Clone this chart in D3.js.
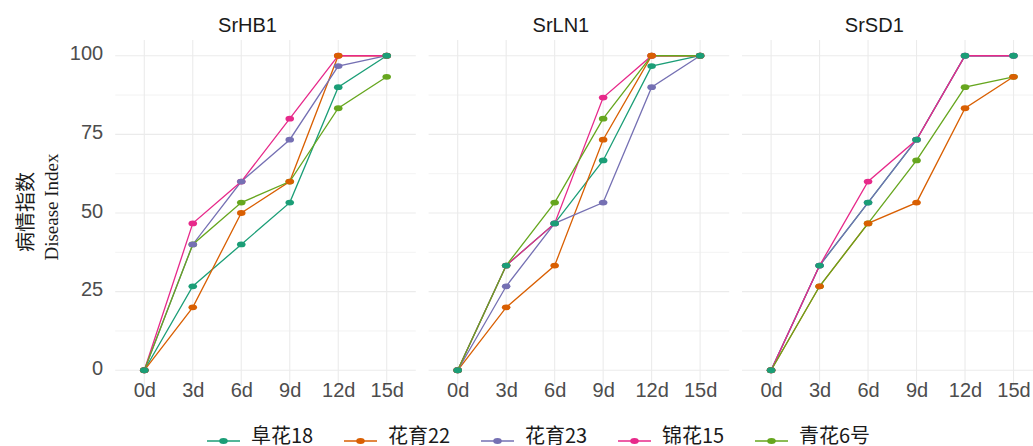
<!DOCTYPE html>
<html>
<head>
<meta charset="utf-8">
<script src="https://cdn.jsdelivr.net/npm/d3@7"></script>
<style>
  body { margin: 0; background: #fff; }
  svg { display: block; }
</style>
</head>
<body>
<svg id="chart"></svg>
<script>
// data
const days = ["0d", "3d", "6d", "9d", "12d", "15d"];
const panels = ["SrHB1", "SrLN1", "SrSD1"];
const cultivars = ["阜花18", "花育22", "花育23", "锦花15", "青花6号"];
const colors = ["#1B9E77", "#D95F02", "#7570B3", "#E7298A", "#66A61E"];
const yTicks = [0, 25, 50, 75, 100];

// values per panel, one row per cultivar
const srHB1 = [
    [0, 26.7, 40, 53.3, 90, 100],
    [0, 20, 50, 60, 100, 100],
    [0, 40, 60, 73.3, 96.7, 100],
    [0, 46.7, 60, 80, 100, 100],
    [0, 40, 53.3, 60, 83.3, 93.3]
];
const srLN1 = [
    [0, 33.3, 46.7, 66.7, 96.7, 100],
    [0, 20, 33.3, 73.3, 100, 100],
    [0, 26.7, 46.7, 53.3, 90, 100],
    [0, 33.3, 46.7, 86.7, 100, 100],
    [0, 33.3, 53.3, 80, 100, 100]
];
const srSD1 = [
    [0, 33.3, 53.3, 73.3, 100, 100],
    [0, 26.7, 46.7, 53.3, 83.3, 93.3],
    [0, 33.3, 53.3, 73.3, 100, 100],
    [0, 33.3, 60, 73.3, 100, 100],
    [0, 26.7, 46.7, 66.7, 90, 93.3]
];
const panelValues = [srHB1, srLN1, srSD1];

function getConfig() {
    let width = 1033;
    let height = 446;
    let panelTop = 40, panelBottom = 386;
    let panelLeft = 115.2, panelWidth = 300.6, panelGap = 12.8;
    let svg = d3.select("#chart").attr("width", width).attr("height", height);
    return { width, height, panelTop, panelBottom, panelLeft, panelWidth, panelGap, svg };
}

function drawPanel(config, p) {
    let { svg, panelTop, panelBottom, panelLeft, panelWidth, panelGap } = config;
    let x0 = panelLeft + p * (panelWidth + panelGap);

    let xScale = d3.scalePoint().domain(days).range([x0, x0 + panelWidth]).padding(0.6);
    let yScale = d3.scaleLinear().domain([-5, 105]).range([panelBottom, panelTop]);

    let g = svg.append("g");

    // minor grid
    let minor = d3.range(12.5, 100, 25);
    g.selectAll(".minor").data(minor).enter().append("line")
        .attr("x1", x0).attr("x2", x0 + panelWidth)
        .attr("y1", d => yScale(d)).attr("y2", d => yScale(d))
        .attr("stroke", "#EBEBEB").attr("stroke-width", 0.6);

    // major grid
    g.selectAll(".major").data(yTicks).enter().append("line")
        .attr("x1", x0).attr("x2", x0 + panelWidth)
        .attr("y1", d => yScale(d)).attr("y2", d => yScale(d))
        .attr("stroke", "#EBEBEB").attr("stroke-width", 1.1);
    g.selectAll(".vgrid").data(days).enter().append("line")
        .attr("x1", d => xScale(d)).attr("x2", d => xScale(d))
        .attr("y1", panelTop).attr("y2", panelBottom)
        .attr("stroke", "#EBEBEB").attr("stroke-width", 1.1);

    // x axis labels
    let axisX = d3.axisBottom(xScale).tickSize(0).tickPadding(0);
    let ax = g.append("g").attr("transform", `translate(0,${panelBottom - 4})`).call(axisX);
    ax.select(".domain").remove();
    ax.selectAll("text")
        .attr("dy", null).attr("y", 15)
        .attr("fill", "#4D4D4D")
        .style("font-family", "Liberation Sans, Arial, sans-serif")
        .style("font-size", "20px");

    // y axis labels only on first panel
    if (p === 0) {
        let axisY = d3.axisLeft(yScale).tickValues(yTicks).tickSize(0).tickPadding(12);
        let ay = g.append("g").attr("transform", `translate(${x0},0)`).call(axisY);
        ay.select(".domain").remove();
        ay.selectAll("text")
            .attr("fill", "#4D4D4D")
            .attr("dy", "0.2em")
            .style("font-family", "Liberation Sans, Arial, sans-serif")
            .style("font-size", "20px");
    }

    // strip title
    g.append("text")
        .attr("x", x0 + panelWidth / 2 - 18)
        .attr("y", 32)
        .attr("text-anchor", "middle")
        .attr("fill", "#1A1A1A")
        .style("font-family", "Liberation Sans, Arial, sans-serif")
        .style("font-size", "20px")
        .text(panels[p]);

    let line = d3.line().x((d, i) => xScale(days[i])).y(d => yScale(d));
    let rows = panelValues[p];

    // lines in cultivar order
    g.selectAll(".series").data(rows).enter().append("path")
        .attr("d", d => line(d))
        .attr("fill", "none")
        .attr("stroke", (d, i) => colors[i])
        .attr("stroke-width", 1.3);

    // points drawn in reverse so the first cultivar sits on top
    let order = d3.range(rows.length).reverse();
    order.forEach(k => {
        g.selectAll(null).data(rows[k]).enter().append("ellipse")
            .attr("cx", (d, i) => xScale(days[i]))
            .attr("cy", d => yScale(d))
            .attr("rx", 4.3).attr("ry", 2.9)
            .attr("fill", colors[k]);
    });
}

function drawYLabel(config) {
    let { svg } = config;
    let cy = 210;
    svg.append("text")
        .attr("transform", `translate(33,${cy + 2}) rotate(-90)`)
        .attr("text-anchor", "middle")
        .attr("fill", "#1A1A1A")
        .style("font-family", "Noto Sans CJK SC, sans-serif")
        .style("font-size", "20px")
        .text("病情指数");
    svg.append("text")
        .attr("transform", `translate(58,${cy - 3}) rotate(-90)`)
        .attr("text-anchor", "middle")
        .attr("fill", "#1A1A1A")
        .style("font-family", "Liberation Serif, Times New Roman, serif")
        .style("font-size", "19px")
        .text("Disease Index");
}

function drawLegend(config) {
    let { svg } = config;
    let legendX = d3.scaleLinear().domain([0, cultivars.length]).range([207, 207 + 5 * 137]);
    let items = svg.selectAll(".legend").data(cultivars).enter().append("g")
        .attr("transform", (d, i) => `translate(${legendX(i)},441)`);
    items.append("line")
        .attr("x1", 0).attr("x2", 33).attr("y1", 0).attr("y2", 0)
        .attr("stroke", (d, i) => colors[i]).attr("stroke-width", 1.3);
    items.append("ellipse")
        .attr("cx", 16.5).attr("cy", 0).attr("rx", 4.3).attr("ry", 2.9)
        .attr("fill", (d, i) => colors[i]);
    items.append("text")
        .attr("x", 44).attr("y", 2)
        .attr("fill", "#1A1A1A")
        .style("font-family", "Noto Sans CJK SC, sans-serif")
        .style("font-size", "20px")
        .text(d => d);
}

function drawChart() {
    let config = getConfig();
    panels.forEach((name, p) => drawPanel(config, p));
    drawYLabel(config);
    drawLegend(config);
}

drawChart();
</script>
</body>
</html>
